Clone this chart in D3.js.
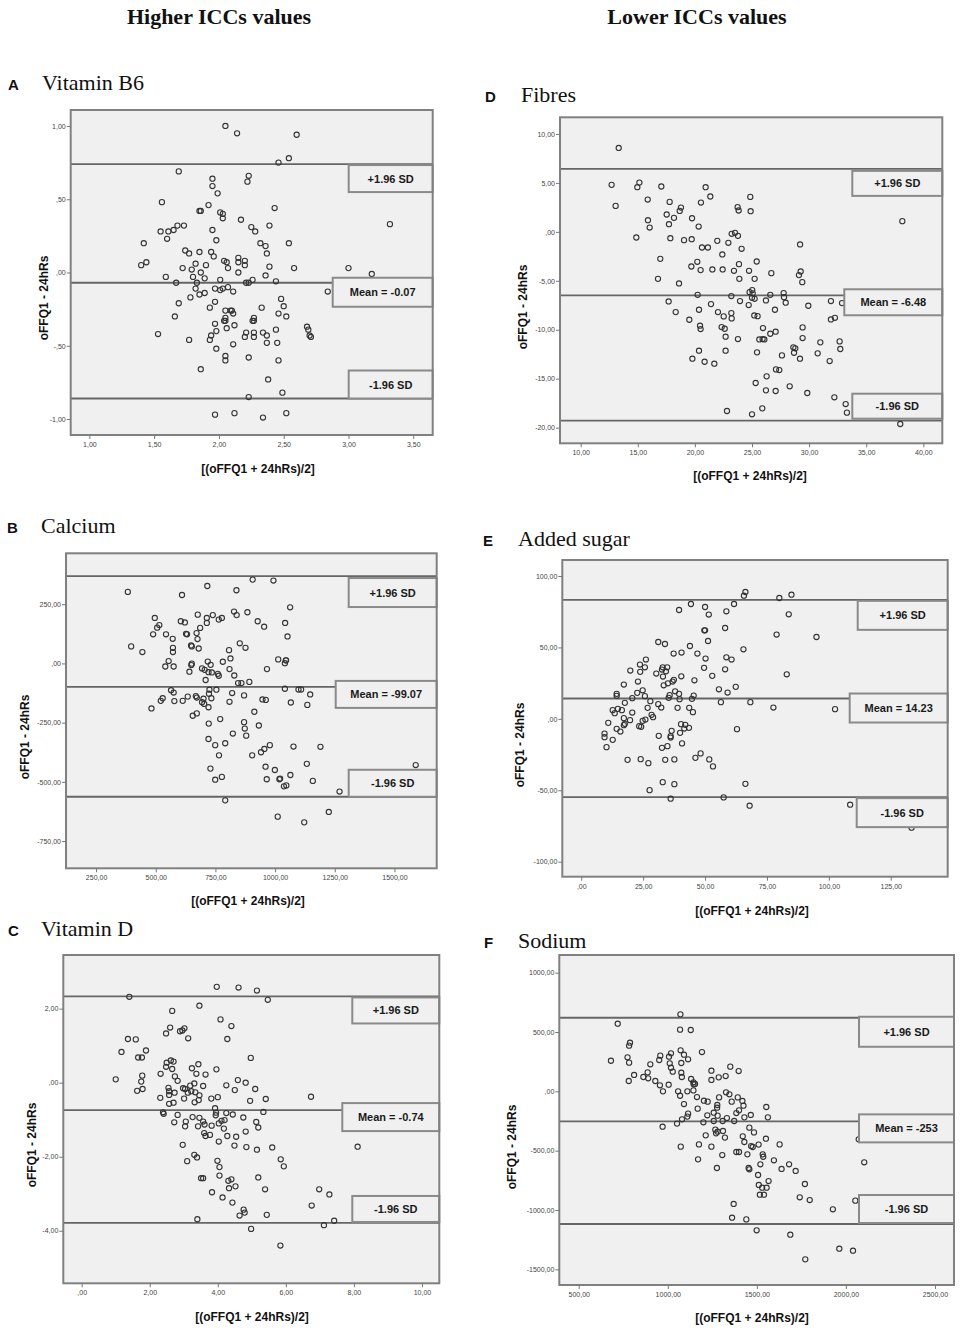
<!DOCTYPE html>
<html>
<head>
<meta charset="utf-8">
<script src="https://cdn.jsdelivr.net/npm/d3@7"></script>
<style>
  body { margin: 0; background: #fff; }
  text { font-family: "Liberation Sans", Arial, sans-serif; }
</style>
</head>
<body>
<svg id="fig" width="966" height="1339"></svg>
<script>
// ---- data: [mean of methods, difference] ----
const vitB6Pts = [[2.05,1.00],[2.14,0.95],[2.60,0.94],[2.46,0.75],[2.54,0.78],[1.69,0.69],[1.95,0.64],[2.23,0.66],[2.22,0.62],[1.95,0.59],[1.99,0.54],[1.56,0.48],[1.92,0.46],[1.85,0.42],[1.86,0.42],[2.43,0.44],[2.01,0.41],[2.03,0.40],[2.03,0.37],[2.17,0.36],[2.39,0.32],[2.25,0.31],[2.28,0.28],[3.32,0.33],[1.55,0.28],[1.61,0.28],[1.65,0.29],[1.68,0.32],[1.73,0.32],[1.60,0.23],[1.95,0.29],[1.98,0.22],[1.42,0.20],[2.32,0.20],[2.36,0.18],[2.54,0.20],[1.74,0.15],[1.77,0.13],[1.85,0.14],[1.94,0.14],[1.96,0.11],[2.15,0.10],[2.37,0.13],[2.04,0.08],[2.06,0.07],[2.15,0.07],[2.20,0.08],[1.82,0.06],[1.90,0.05],[2.20,0.05],[2.07,0.03],[2.39,0.04],[2.58,0.03],[3.00,0.03],[1.40,0.05],[1.44,0.07],[1.72,0.03],[1.79,0.02],[1.86,0.00],[2.15,0.00],[2.36,-0.02],[3.18,-0.01],[1.59,-0.03],[1.80,-0.03],[1.89,-0.04],[2.01,-0.05],[1.67,-0.07],[1.83,-0.07],[2.21,-0.07],[2.23,-0.07],[2.26,-0.05],[2.44,-0.06],[1.82,-0.11],[1.97,-0.11],[2.01,-0.12],[2.03,-0.11],[2.07,-0.10],[2.11,-0.13],[1.89,-0.14],[1.85,-0.15],[2.84,-0.13],[1.78,-0.17],[1.69,-0.21],[1.97,-0.20],[2.48,-0.18],[2.50,-0.23],[1.93,-0.24],[2.33,-0.24],[2.05,-0.26],[2.09,-0.26],[2.10,-0.26],[2.11,-0.28],[2.46,-0.28],[2.52,-0.30],[1.66,-0.30],[2.05,-0.31],[2.05,-0.33],[2.04,-0.33],[2.27,-0.31],[2.26,-0.33],[2.27,-0.33],[1.97,-0.35],[2.12,-0.36],[2.06,-0.38],[2.68,-0.37],[2.69,-0.39],[2.70,-0.43],[2.71,-0.44],[2.44,-0.39],[1.53,-0.42],[1.98,-0.40],[1.94,-0.43],[1.93,-0.46],[2.21,-0.41],[2.20,-0.44],[2.27,-0.44],[2.27,-0.41],[2.34,-0.41],[2.37,-0.43],[2.37,-0.48],[2.45,-0.48],[1.77,-0.46],[2.11,-0.49],[1.98,-0.52],[2.05,-0.57],[2.05,-0.60],[2.23,-0.58],[2.46,-0.60],[1.86,-0.66],[2.38,-0.73],[2.49,-0.82],[2.23,-0.85],[1.97,-0.97],[2.12,-0.96],[2.34,-0.99],[2.52,-0.96]];

const calciumPts = [[383,302],[397,72],[444,48],[496,192],[515,162],[506,151],[489,123],[543,123],[571,104],[572,66],[572,48],[610,289],[605,178],[622,173],[627,125],[631,123],[676,206],[714,192],[739,204],[764,185],[777,192],[716,327],[838,309],[828,219],[839,204],[884,216],[927,178],[954,155],[906,354],[993,350],[1063,237],[1042,171],[1052,114],[714,171],[686,150],[671,128],[675,103],[648,76],[651,72],[680,63],[852,85],[876,66],[807,56],[813,21],[781,7],[718,8],[730,-6],[651,-1],[649,-7],[554,10],[540,-13],[575,-13],[641,-35],[694,-21],[705,-27],[721,-37],[735,-38],[760,-44],[764,-52],[809,-24],[829,-51],[709,-70],[845,-83],[859,-83],[892,-78],[966,-24],[1013,17],[1045,13],[1041,1],[1046,13],[1041,-107],[1098,-110],[1109,-110],[1147,-131],[754,-111],[725,-111],[723,-128],[668,-138],[672,-144],[634,-140],[613,-158],[564,-113],[575,-123],[529,-147],[521,-158],[578,-159],[700,-149],[694,-164],[703,-171],[733,-147],[721,-185],[820,-125],[870,-135],[809,-162],[947,-152],[961,-154],[1066,-165],[1135,-175],[482,-190],[672,-211],[655,-221],[913,-204],[722,-254],[770,-235],[870,-248],[873,-275],[879,-305],[932,-262],[823,-296],[721,-319],[749,-345],[791,-337],[765,-388],[904,-388],[941,-375],[955,-361],[978,-345],[1077,-351],[1190,-352],[729,-444],[777,-479],[749,-491],[960,-436],[999,-450],[965,-489],[1018,-489],[1021,-486],[1047,-515],[1037,-519],[1064,-471],[1133,-424],[1158,-496],[1270,-541],[1589,-429],[791,-578],[1011,-647],[1122,-671],[1225,-627]];

const vitDPts = [[3.97,2.59],[4.61,2.57],[5.15,2.49],[5.47,2.24],[1.40,2.32],[3.46,2.08],[2.66,1.94],[4.08,1.71],[4.40,1.53],[2.60,1.49],[2.48,1.33],[3.02,1.47],[2.96,1.41],[2.89,1.39],[3.13,1.20],[4.28,1.18],[1.36,1.18],[1.59,1.17],[1.17,0.83],[1.89,0.87],[1.66,0.68],[1.77,0.68],[4.97,0.67],[2.50,0.54],[2.62,0.60],[2.70,0.57],[3.43,0.50],[2.48,0.43],[3.24,0.39],[3.96,0.36],[2.66,0.37],[2.32,0.24],[3.37,0.24],[3.64,0.22],[1.78,0.19],[2.74,0.17],[2.82,0.05],[1.00,0.09],[1.75,0.03],[4.59,0.07],[4.82,0.00],[1.63,-0.22],[1.79,-0.17],[2.55,-0.14],[2.98,-0.15],[3.04,-0.17],[3.19,-0.08],[3.31,-0.02],[3.57,-0.09],[4.25,-0.07],[4.50,-0.20],[5.10,-0.17],[2.57,-0.23],[2.73,-0.27],[3.12,-0.27],[3.22,-0.23],[3.34,-0.26],[2.57,-0.33],[3.46,-0.34],[2.31,-0.41],[3.01,-0.43],[3.32,-0.53],[3.44,-0.47],[2.57,-0.57],[2.70,-0.54],[3.81,-0.43],[4.00,-0.39],[4.95,-0.49],[5.41,-0.44],[6.74,-0.38],[2.39,-0.80],[2.41,-0.84],[2.82,-0.87],[3.92,-0.69],[3.95,-0.81],[3.94,-0.88],[4.25,-0.82],[4.44,-0.86],[5.34,-0.79],[3.26,-0.93],[3.46,-0.95],[4.75,-0.94],[2.72,-1.07],[3.06,-1.05],[3.57,-1.05],[3.61,-1.13],[4.03,-1.10],[4.11,-1.03],[4.20,-1.01],[5.13,-1.06],[3.04,-1.18],[3.42,-1.18],[3.82,-1.16],[4.18,-1.24],[5.19,-1.21],[3.60,-1.36],[3.64,-1.44],[3.77,-1.41],[4.28,-1.44],[4.54,-1.46],[4.82,-1.32],[4.03,-1.59],[2.97,-1.68],[4.49,-1.70],[4.84,-1.74],[5.60,-1.75],[8.11,-1.73],[5.15,-1.81],[3.31,-1.95],[3.39,-2.02],[3.10,-2.12],[3.99,-2.11],[4.05,-2.28],[5.85,-2.07],[5.94,-2.26],[3.51,-2.58],[3.57,-2.58],[4.05,-2.51],[4.31,-2.65],[4.40,-2.61],[4.33,-2.85],[4.52,-2.80],[5.19,-2.56],[5.39,-2.88],[3.83,-2.96],[4.14,-3.10],[4.43,-3.24],[6.98,-2.88],[7.28,-3.02],[6.76,-3.32],[4.76,-3.43],[4.79,-3.51],[4.64,-3.59],[5.44,-3.57],[3.40,-3.69],[7.42,-3.73],[7.12,-3.85],[4.98,-3.95],[5.84,-4.40]];

const fibresPts = [[13.33,8.57],[12.71,4.80],[13.06,2.65],[15.14,5.03],[14.96,4.56],[17.06,4.63],[20.94,4.56],[21.35,3.61],[24.85,3.57],[15.87,3.30],[17.79,3.06],[20.53,2.99],[18.78,2.48],[18.67,2.14],[23.74,2.52],[23.83,2.18],[24.88,2.11],[18.17,1.43],[17.53,1.77],[15.89,1.19],[19.75,1.39],[38.16,1.09],[17.73,0.78],[16.04,0.44],[20.33,0.54],[14.87,-0.58],[17.85,-0.65],[19.05,-0.85],[19.72,-0.75],[23.22,-0.20],[23.51,-0.10],[23.77,-0.41],[21.96,-0.92],[22.93,-1.12],[29.21,-1.29],[20.62,-1.60],[21.14,-1.60],[24.09,-1.73],[22.40,-2.31],[16.97,-2.76],[25.41,-3.03],[20.21,-3.06],[19.69,-3.54],[23.86,-3.30],[20.50,-3.91],[21.53,-3.84],[22.43,-3.84],[23.42,-3.98],[24.74,-3.98],[26.69,-4.22],[29.26,-4.05],[29.11,-4.42],[16.77,-4.80],[23.89,-4.80],[25.23,-4.80],[29.40,-5.14],[18.61,-5.27],[24.79,-6.16],[25.02,-5.95],[25.06,-6.29],[20.24,-6.43],[23.19,-6.56],[25.00,-6.73],[25.23,-6.84],[26.60,-6.43],[27.77,-6.26],[27.80,-6.67],[23.95,-7.07],[26.22,-7.01],[27.95,-7.24],[17.70,-7.11],[21.41,-7.38],[24.71,-7.48],[29.93,-7.55],[31.91,-7.07],[32.88,-7.28],[20.36,-7.96],[27.01,-7.96],[18.32,-8.20],[22.02,-8.20],[23.19,-8.30],[22.52,-8.64],[25.20,-8.54],[25.49,-8.61],[23.22,-8.84],[19.51,-8.98],[31.91,-8.95],[32.26,-8.78],[20.45,-9.59],[20.50,-9.93],[22.34,-9.73],[22.61,-9.90],[25.96,-9.83],[29.43,-9.76],[26.60,-10.41],[27.07,-10.20],[22.69,-10.71],[23.77,-10.95],[25.64,-10.99],[25.93,-10.95],[26.08,-10.99],[29.43,-10.85],[30.98,-11.29],[32.67,-11.19],[32.73,-11.97],[28.62,-11.80],[28.79,-11.90],[28.68,-12.35],[29.20,-12.96],[30.75,-12.41],[31.80,-13.20],[25.44,-12.31],[27.62,-12.62],[20.36,-12.14],[22.69,-12.14],[19.78,-12.96],[20.85,-13.27],[21.70,-13.47],[27.10,-14.05],[27.39,-14.12],[26.28,-14.76],[25.32,-15.44],[28.30,-15.78],[26.22,-16.19],[27.07,-16.26],[29.84,-16.46],[32.21,-16.90],[33.20,-17.59],[33.31,-18.47],[22.81,-18.30],[25.90,-18.03],[25.00,-18.64],[37.98,-19.63]];

const sugarPts = [[66.3,88.8],[65.7,86.2],[84.9,86.9],[80.0,84.6],[44.3,80.4],[50.0,78.3],[61.7,80.4],[39.5,76.2],[58.6,75.3],[51.5,73.0],[83.8,73.2],[49.7,62.0],[50.0,62.0],[58.1,63.6],[78.9,59.0],[95.0,57.3],[51.2,54.5],[31.1,53.8],[33.8,52.4],[43.9,51.0],[65.5,48.7],[37.3,45.7],[40.5,46.4],[46.9,45.7],[50.2,42.2],[58.6,43.1],[60.7,41.5],[26.1,41.5],[23.7,38.0],[25.7,36.1],[23.8,32.9],[19.8,33.8],[32.9,36.1],[34.7,36.1],[32.6,34.5],[34.2,33.3],[49.6,35.7],[58.1,34.7],[30.3,31.7],[33.0,29.6],[40.4,29.8],[52.9,30.1],[83.0,31.2],[22.9,26.1],[17.2,24.0],[37.4,27.3],[36.9,26.1],[35.0,24.9],[45.7,27.0],[33.3,23.5],[62.4,22.4],[55.6,20.7],[24.8,20.0],[22.6,18.2],[37.9,19.3],[39.5,17.5],[35.7,16.6],[14.3,17.5],[14.3,16.1],[25.7,15.9],[45.4,16.3],[59.1,18.4],[35.3,14.7],[39.7,13.8],[44.7,14.0],[20.6,14.5],[17.6,11.2],[27.9,12.4],[31.1,10.3],[56.4,11.7],[68.3,11.7],[32.3,7.9],[26.8,7.7],[38.9,7.7],[43.6,7.7],[77.6,7.9],[102.5,6.8],[14.8,7.0],[12.7,6.1],[16.4,6.1],[13.5,4.0],[20.6,4.4],[45.1,4.7],[28.4,2.8],[29.0,1.2],[17.2,0.5],[19.7,-0.9],[25.9,-0.5],[24.8,-1.4],[10.9,-2.8],[17.6,-3.5],[17.2,-4.4],[23.4,-5.1],[24.2,-5.6],[40.3,-3.7],[42.0,-4.2],[43.5,-6.3],[41.6,-6.8],[62.9,-7.2],[14.3,-7.0],[15.8,-8.9],[36.5,-8.4],[39.9,-9.8],[31.3,-11.9],[36.1,-12.1],[36.1,-13.1],[9.4,-10.3],[9.4,-12.8],[12.7,-14.7],[10.2,-19.8],[32.6,-20.3],[34.8,-19.1],[40.7,-17.2],[18.7,-28.7],[24.0,-28.2],[27.1,-31.0],[33.9,-28.7],[37.6,-28.4],[46.1,-27.3],[48.2,-24.2],[51.7,-28.4],[53.2,-33.3],[32.9,-44.3],[37.6,-45.7],[66.3,-45.5],[27.6,-49.9],[36.1,-55.9],[57.5,-55.0],[68.0,-60.8],[108.6,-60.1],[133.4,-76.2]];

const sodiumPts = [[1071,649],[719,570],[1069,520],[1129,517],[788,410],[783,385],[1192,331],[1072,346],[1091,309],[1114,270],[1018,320],[1007,292],[958,301],[952,264],[681,258],[774,287],[783,242],[902,228],[1011,236],[1018,199],[1028,166],[1076,239],[1076,157],[1079,121],[1245,174],[1245,96],[1286,118],[1325,129],[1351,208],[1398,171],[811,138],[863,121],[887,160],[890,110],[930,87],[956,51],[973,0],[781,87],[1005,56],[1131,104],[1144,76],[1145,59],[1153,62],[1058,0],[1069,-37],[1110,0],[1144,8],[1164,-48],[1091,-107],[1203,-79],[1224,-87],[1288,-51],[1327,-8],[1346,-25],[1359,-87],[1393,-51],[1419,-81],[1425,-121],[1168,-146],[1114,-188],[1110,-213],[1080,-236],[1222,-202],[1278,-115],[1277,-138],[1258,-180],[1280,-205],[1332,-225],[1385,-183],[1400,-160],[1430,-219],[1466,-199],[1553,-132],[1562,-219],[1200,-261],[1258,-250],[1308,-250],[1373,-250],[971,-298],[1052,-272],[1267,-323],[1280,-340],[1271,-354],[1310,-334],[1321,-390],[1458,-306],[1484,-346],[1213,-371],[1421,-379],[1430,-427],[1468,-461],[1477,-469],[1510,-449],[1551,-399],[1628,-447],[1073,-466],[1175,-447],[1245,-466],[1385,-511],[1400,-511],[1447,-531],[1306,-537],[1533,-531],[1536,-551],[1170,-573],[1596,-581],[1520,-615],[1276,-646],[1454,-646],[1458,-657],[1639,-654],[1681,-615],[1718,-671],[1507,-705],[1566,-756],[1511,-789],[1530,-812],[1555,-812],[1540,-871],[1517,-871],[1770,-781],[1741,-893],[1797,-916],[1927,-994],[2053,-921],[2103,-598],[2072,-404],[1370,-949],[1361,-1065],[1441,-1079],[1499,-1171],[1688,-1208],[1772,-1416],[1963,-1326],[2040,-1343]];

// mean difference and limits of agreement [mean, +1.96 SD, -1.96 SD]
const vitB6Limits   = [-0.07, 0.74, -0.86];
const calciumLimits = [-99.07, 369, -563];
const vitDLimits    = [-0.74, 2.33, -3.79];
const fibresLimits  = [-6.48, 6.43, -19.29];
const sugarLimits   = [14.23, 83.3, -54.8];
const sodiumLimits  = [-253, 620, -1118];

const meanLabels = ["Mean = -0.07", "Mean = -99.07", "Mean = -0.74", "Mean = -6.48", "Mean = 14.23", "Mean = -253"];

// tick values
const vitB6XTicks = [1, 1.5, 2, 2.5, 3, 3.5],        vitB6YTicks = [-1, -0.5, 0, 0.5, 1];
const calciumXTicks = [250, 500, 750, 1000, 1250, 1500], calciumYTicks = [-750, -500, -250, 0, 250];
const vitDXTicks = [0, 2, 4, 6, 8, 10],               vitDYTicks = [-4, -2, 0, 2];
const fibresXTicks = [10, 15, 20, 25, 30, 35, 40],    fibresYTicks = [-20, -15, -10, -5, 0, 5, 10];
const sugarXTicks = [0, 25, 50, 75, 100, 125],        sugarYTicks = [-100, -50, 0, 50, 100];
const sodiumXTicks = [500, 1000, 1500, 2000, 2500],   sodiumYTicks = [-1500, -1000, -500, 0, 500, 1000];

const panelLetters = ["A", "B", "C", "D", "E", "F"];
const panelTitles = ["Vitamin B6", "Calcium", "Vitamin D", "Fibres", "Added sugar", "Sodium"];
const columnHeads = ["Higher ICCs values", "Lower ICCs values"];

// ---- layout ----
const panels = [
  { pts: vitB6Pts, lim: vitB6Limits, xt: vitB6XTicks, yt: vitB6YTicks,
    frame: [70.7, 110, 432.7, 435], xd: [0.856, 3.65], yd: [-1.109, 1.109],
    head: [8, 90, 42], ylab: [44, 298], xlab: [258, 473],
    boxes: [[84, 27, 1], [100, 29, -5], [84, 28, -28]] },
  { pts: calciumPts, lim: calciumLimits, xt: calciumXTicks, yt: calciumYTicks,
    frame: [66, 553.3, 436.7, 868.3], xd: [124, 1677], yd: [-865, 465],
    head: [7, 533, 41], ylab: [25, 737], xlab: [248, 905],
    boxes: [[88, 29, 2], [101, 27, -6], [88, 27, -27]] },
  { pts: vitDPts, lim: vitDLimits, xt: vitDXTicks, yt: vitDYTicks,
    frame: [63.3, 955, 439.3, 1283.3], xd: [-0.54, 10.51], yd: [-5.42, 3.45],
    head: [8, 936, 41], ylab: [32, 1145], xlab: [252, 1321],
    boxes: [[87, 26, 1], [97, 28, -7], [87, 26, -27]] },
  { pts: fibresPts, lim: fibresLimits, xt: fibresXTicks, yt: fibresYTicks,
    frame: [560, 117.3, 942.3, 443.3], xd: [8.19, 41.66], yd: [-21.6, 11.7],
    head: [485, 102, 521], ylab: [523, 307], xlab: [750, 480],
    boxes: [[90, 25, 2], [98, 26, -6], [90, 25, -27]] },
  { pts: sugarPts, lim: sugarLimits, xt: sugarXTicks, yt: sugarYTicks,
    frame: [562.3, 560, 947.7, 876.7], xd: [-7.66, 148], yd: [-110.5, 111.2],
    head: [483, 546, 518], ylab: [520, 745], xlab: [752, 915],
    boxes: [[90, 29, 1], [98, 29, -5], [91, 29, 1]] },
  { pts: sodiumPts, lim: sodiumLimits, xt: sodiumXTicks, yt: sodiumYTicks,
    frame: [559.3, 955, 954, 1285], xd: [391, 2607], yd: [-1632, 1149],
    head: [484, 948, 518], ylab: [512, 1147], xlab: [752, 1322],
    boxes: [[95, 30, -1], [95, 28, -7], [95, 28, -29]] }
];

const svg = d3.select("#fig");
svg.append("rect").attr("width", 966).attr("height", 1339).attr("fill", "#fff");

// comma decimals, no leading zero (SPSS style)
function fmt(v) {
  return v.toFixed(2).replace(/^(-?)0\./, "$1.").replace(".", ",");
}

// column headings
svg.selectAll("text.colhead")
  .data(columnHeads)
  .enter()
  .append("text")
  .attr("class", "colhead")
  .attr("x", (d, i) => i === 0 ? 219 : 697)
  .attr("y", 24)
  .attr("text-anchor", "middle")
  .style("font-family", "'Liberation Serif', 'Times New Roman', serif")
  .style("font-weight", "bold")
  .style("font-size", "22px")
  .attr("fill", "#111")
  .text(d => d);

function drawPanel(p, i) {
  const [x0, y0, x1, y1] = p.frame;
  const x = d3.scaleLinear().domain(p.xd).range([x0, x1]);
  const y = d3.scaleLinear().domain(p.yd).range([y1, y0]);
  const g = svg.append("g");

  // panel letter and title
  g.append("text")
    .attr("x", p.head[0]).attr("y", p.head[1])
    .style("font-weight", "bold").style("font-size", "15px")
    .attr("fill", "#111")
    .text(panelLetters[i]);
  g.append("text")
    .attr("x", p.head[2]).attr("y", p.head[1])
    .style("font-family", "'Liberation Serif', 'Times New Roman', serif")
    .style("font-size", "22px")
    .attr("fill", "#111")
    .text(panelTitles[i]);

  // plot background
  g.append("rect")
    .attr("x", x0).attr("y", y0)
    .attr("width", x1 - x0).attr("height", y1 - y0)
    .attr("fill", "#f0f0f0");

  // mean and limits of agreement
  g.selectAll("line.ref")
    .data(p.lim)
    .enter()
    .append("line")
    .attr("class", "ref")
    .attr("x1", x0).attr("x2", x1)
    .attr("y1", d => y(d)).attr("y2", d => y(d))
    .style("stroke", "#666")
    .style("stroke-width", 1.8);

  // points
  g.selectAll("circle")
    .data(p.pts)
    .enter()
    .append("circle")
    .attr("cx", d => x(d[0]))
    .attr("cy", d => y(d[1]))
    .attr("r", 2.6)
    .style("fill", "none")
    .style("stroke", "#333")
    .style("stroke-width", 1.1);

  // label boxes: +1.96 SD, Mean, -1.96 SD
  const boxText = ["+1.96 SD", meanLabels[i], "-1.96 SD"];
  const order = [1, 0, 2]; // lim index for each box
  order.forEach((li, k) => {
    const [w, h, dy] = p.boxes[k];
    const top = y(p.lim[li]) + dy;
    g.append("rect")
      .attr("x", x1 - w).attr("y", top)
      .attr("width", w).attr("height", h)
      .attr("fill", "#f0f0f0")
      .style("stroke", "#8a8a8a")
      .style("stroke-width", 2);
    g.append("text")
      .attr("x", x1 - w / 2).attr("y", top + h / 2)
      .attr("text-anchor", "middle")
      .attr("dominant-baseline", "central")
      .style("font-weight", "bold").style("font-size", "11px")
      .attr("fill", "#1a1a1a")
      .text(boxText[k]);
  });

  // frame
  g.append("rect")
    .attr("x", x0).attr("y", y0)
    .attr("width", x1 - x0).attr("height", y1 - y0)
    .attr("fill", "none")
    .style("stroke", "#808080")
    .style("stroke-width", 2);

  // axes
  const ya = g.append("g")
    .attr("transform", `translate(${x0},0)`)
    .call(d3.axisLeft(y).tickValues(p.yt).tickFormat(fmt).tickSize(4).tickPadding(1));
  const xa = g.append("g")
    .attr("transform", `translate(0,${y1})`)
    .call(d3.axisBottom(x).tickValues(p.xt).tickFormat(fmt).tickSize(4).tickPadding(3));
  [ya, xa].forEach(a => {
    a.select(".domain").remove();
    a.selectAll("line").style("stroke", "#777");
    a.selectAll("text")
      .style("font-size", "7px")
      .style("font-family", "'Liberation Sans', Arial, sans-serif")
      .attr("fill", "#444");
  });

  // axis titles
  g.append("text")
    .attr("transform", `translate(${p.ylab[0]},${p.ylab[1]}) rotate(-90)`)
    .attr("text-anchor", "middle")
    .attr("dominant-baseline", "central")
    .style("font-weight", "bold").style("font-size", "12px")
    .attr("fill", "#111")
    .text("oFFQ1 - 24hRs");
  g.append("text")
    .attr("x", p.xlab[0]).attr("y", p.xlab[1])
    .attr("text-anchor", "middle")
    .style("font-weight", "bold").style("font-size", "12px")
    .attr("fill", "#111")
    .text("[(oFFQ1 + 24hRs)/2]");
}

panels.forEach(drawPanel);
</script>
</body>
</html>
